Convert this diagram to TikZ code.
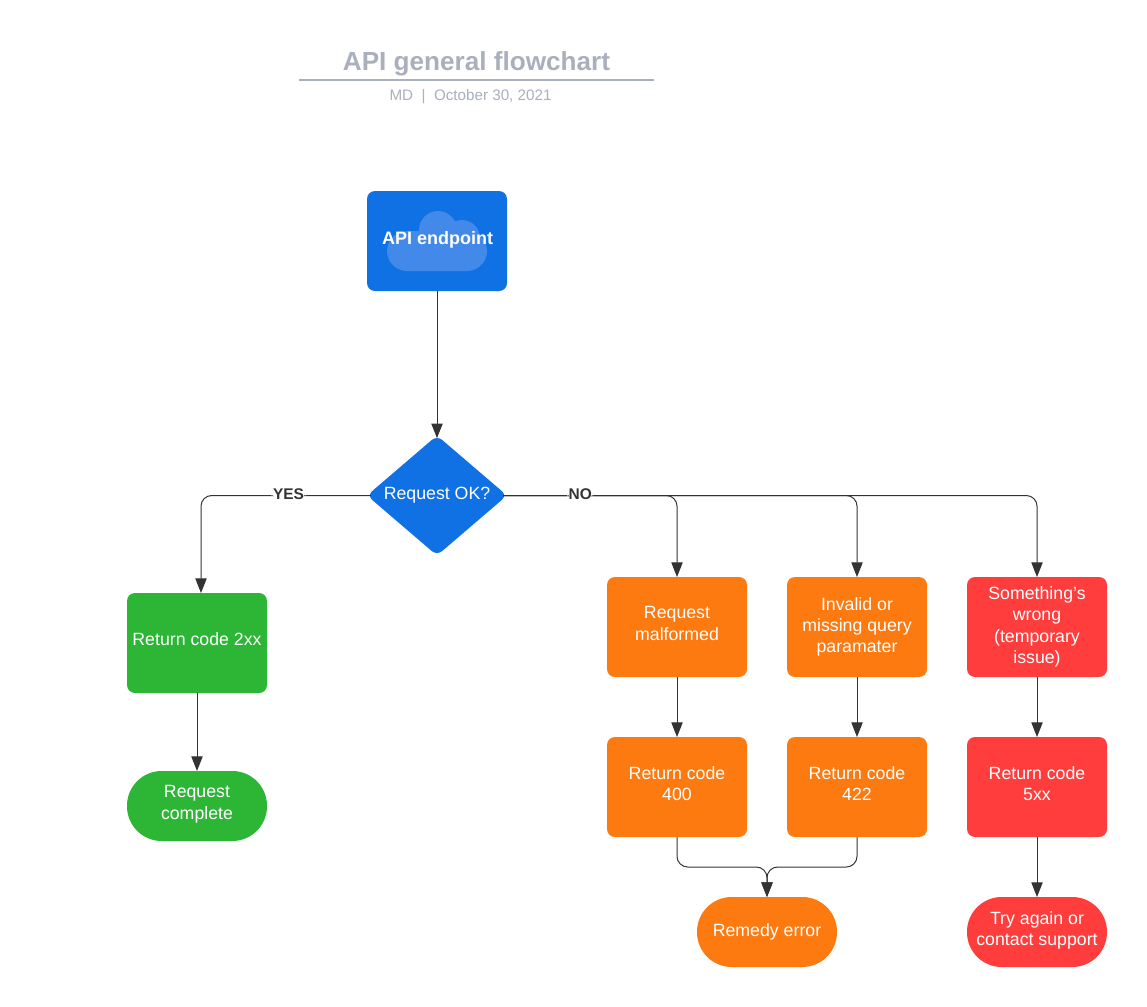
\documentclass[tikz,border=0pt]{standalone}
\usepackage{fontspec}
\setmainfont{Liberation Sans}
\usetikzlibrary{positioning,shapes.geometric,arrows.meta,calc}
\definecolor{apiblue}{HTML}{1071E5}
\definecolor{cloudblue}{HTML}{4289E9}
\definecolor{okgreen}{HTML}{2DB536}
\definecolor{warnorange}{HTML}{FC7A10}
\definecolor{failred}{HTML}{FF3D3D}
\definecolor{titlegrey}{HTML}{A9AFBC}
\definecolor{linegrey}{HTML}{333333}
\tikzset{>={Triangle[length=11pt,width=8.5pt]}}
\tikzset{
  flowbox/.style={rectangle, rounded corners=6pt, minimum width=105pt, minimum height=75pt,
    inner sep=0pt, outer sep=0pt, align=center, text=white, font=\fontsize{13.3}{16}\selectfont},
  endcap/.style={flowbox, rounded corners=26pt, minimum height=52.5pt},
  lifted/.style={text depth=5.5pt},
  choice/.style={diamond, aspect=1.1667, rounded corners=5pt, minimum width=105pt, minimum height=90pt,
    inner sep=0pt, outer sep=0pt, fill=apiblue, text=white, font=\fontsize{13.3}{16}\selectfont},
  flowline/.style={draw=linegrey, line width=0.75pt, rounded corners=8pt},
  branchlabel/.style={fill=white, inner sep=1pt, text=linegrey, font=\fontsize{11.6}{14}\selectfont\bfseries},
}
\begin{document}
\begin{tikzpicture}[x=0.75pt,y=-0.75pt]
  \useasboundingbox (0,0) rectangle (1147,1007);

  % Title
  \node[text=titlegrey, font=\fontsize{19.6}{24}\selectfont\bfseries] (title) at (476.5,64) {API general flowchart};
  \node[text=titlegrey, font=\fontsize{11.4}{14}\selectfont] (byline) at (470.5,97) {MD\ \ |\ \ October 30, 2021};
  \coordinate (ruleleft) at (299,80);
  \coordinate (ruleright) at (654,80);
  \draw[titlegrey, line width=1.5pt] (ruleleft) -- (ruleright);

  % Nodes
  \node[flowbox, fill=apiblue] (endpoint) at (437,241) {};
  \fill[cloudblue] (438,230) circle (19) (462,238) circle (18)
    [rounded corners=15pt] (387,271) rectangle (487,231);
  \node[text=white, font=\fontsize{13.5}{16}\selectfont\bfseries] (endpointtext) at (437.5,240) {API endpoint};
  \node[choice] (request) at (437,495.5) {Request OK?};

  \node[flowbox, lifted, fill=okgreen] (code2xx) at (197,643) {Return code 2xx};
  \node[endcap, lifted, fill=okgreen, below=58.5pt of code2xx] (complete) {Request\\complete};

  \node[flowbox, lifted, fill=warnorange] (malformed) at (677,627) {Request\\malformed};
  \node[flowbox, fill=warnorange, right=30pt of malformed] (invalid) {Invalid or\\missing query\\paramater};
  \node[flowbox, fill=failred, right=30pt of invalid] (wrong) {Something's\\wrong\\(temporary\\issue)};
  \node[flowbox, lifted, fill=warnorange, below=45pt of malformed] (code400) {Return code\\400};
  \node[flowbox, lifted, fill=warnorange, below=45pt of invalid] (code422) {Return code\\422};
  \node[flowbox, lifted, fill=failred, below=45pt of wrong] (code5xx) {Return code\\5xx};
  \node[endcap, fill=warnorange] (remedy) at (767,932) {Remedy error};
  \node[endcap, lifted, fill=failred, below=45pt of code5xx] (retry) {Try again or\\contact support};
  \coordinate (merge) at (767,867);

  % Edges
  \draw[flowline,->] (endpoint) -- ([yshift=-2pt]request.north);
  \draw[flowline,->] ([xshift=3pt]request.west) -| node[branchlabel, pos=0.2425, yshift=1pt] (yes) {YES} ([xshift=3pt]code2xx.north);
  \draw[flowline,->] (code2xx) -- (complete);
  \draw[flowline,->] ([xshift=-3pt]request.east) -| (malformed.north);
  \draw[flowline,->] ([xshift=-3pt]request.east) -| (invalid.north);
  \draw[flowline,->] ([xshift=-3pt]request.east) -| node[branchlabel, pos=0.0723, yshift=1pt] (no) {NO} (wrong.north);
  \draw[flowline,->] (malformed) -- (code400);
  \draw[flowline,->] (invalid) -- (code422);
  \draw[flowline,->] (wrong) -- (code5xx);
  \draw[flowline,->] (code5xx) -- (retry);
  \draw[flowline,->] (code400.south) |- (merge) -- (remedy.north);
  \draw[flowline,->] (code422.south) |- (merge) -- (remedy.north);
\end{tikzpicture}
\end{document}
